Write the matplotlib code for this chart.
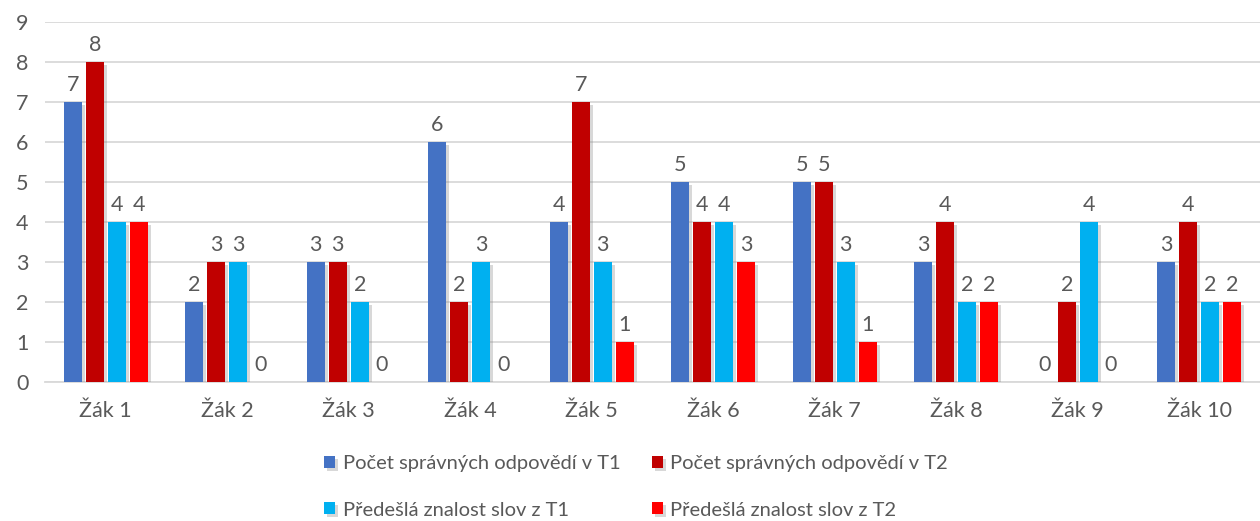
import numpy as np
import matplotlib.pyplot as plt
import matplotlib.patheffects as pe

plt.rcParams['font.family'] = ['Lato', 'DejaVu Sans']

students = ['Žák 1', 'Žák 2', 'Žák 3', 'Žák 4', 'Žák 5',
            'Žák 6', 'Žák 7', 'Žák 8', 'Žák 9', 'Žák 10']
correct_t1 = [7, 2, 3, 6, 4, 5, 5, 3, 0, 3]
correct_t2 = [8, 3, 3, 2, 7, 4, 5, 4, 2, 4]
prior_t1 = [4, 3, 2, 3, 3, 4, 3, 2, 4, 2]
prior_t2 = [4, 0, 0, 0, 1, 3, 1, 2, 0, 2]

series = [
    ('Počet správných odpovědí v T1', correct_t1, '#4472C4'),
    ('Počet správných odpovědí v T2', correct_t2, '#C00000'),
    ('Předešlá znalost slov z T1', prior_t1, '#00B0F0'),
    ('Předešlá znalost slov z T2', prior_t2, '#FF0000'),
]

txt = '#595959'
fig = plt.figure(figsize=(12.6, 5.21), dpi=100)
ax = fig.add_axes([45 / 1260, 1 - 382 / 521, 1 - 45 / 1260, 360 / 521])

x = np.arange(len(students))
w = 0.148
step = 0.181
shadow = [pe.SimplePatchShadow(offset=(2, -2), shadow_rgbFace='gray', alpha=0.3), pe.Normal()]
handles = []
for i, (name, vals, col) in enumerate(series):
    pos = x + (i - 1.5) * step
    bars = ax.bar(pos, vals, width=w, color=col, label=name, zorder=3)
    for b in bars:
        b.set_path_effects(shadow)
    handles.append(bars)
    for p, v in zip(pos, vals):
        ax.annotate(str(v), (p, v), xytext=(0, 5), textcoords='offset points',
                    ha='center', va='bottom', fontsize=15.5, color=txt)

ax.set_xlim(-0.5, len(students) - 0.5)
ax.set_ylim(0, 9)
ax.set_yticks(range(0, 10))
ax.set_xticks(x)
ax.set_xticklabels(students)
ax.tick_params(axis='both', length=0, labelsize=15.5, labelcolor=txt)
ax.tick_params(axis='x', pad=14)
ax.tick_params(axis='y', pad=12)
ax.grid(axis='y', color='#D9D9D9', linewidth=1.3, zorder=0)
for s in ['top', 'right', 'left']:
    ax.spines[s].set_visible(False)
ax.spines['bottom'].set_color('#D9D9D9')
ax.spines['bottom'].set_linewidth(1.3)

# row-wise order for a two-column legend
order = [0, 2, 1, 3]
leg = fig.legend(handles=[handles[k] for k in order], loc='lower center', ncol=2,
                 frameon=False, bbox_to_anchor=(0.505, -0.03), fontsize=14.5,
                 labelcolor=txt, handlelength=0.55, handleheight=0.55,
                 handletextpad=0.35, columnspacing=1.6, labelspacing=1.45)

fig.savefig('out.png', dpi=100)
